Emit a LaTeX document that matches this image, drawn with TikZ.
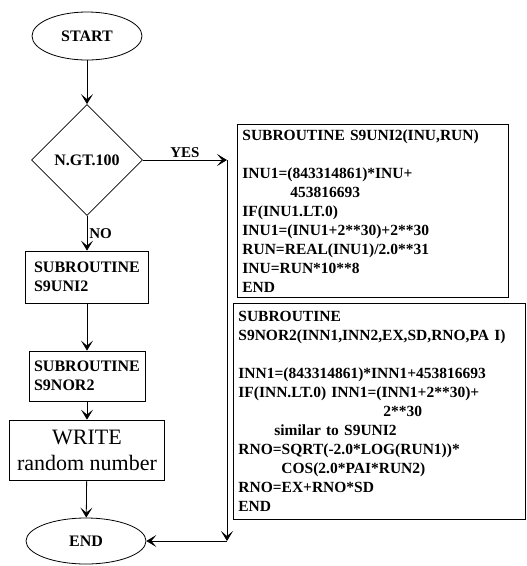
\documentclass[tikz,border=0pt]{standalone}
\usepackage{fontspec}
\setmainfont{Liberation Serif}
\usetikzlibrary{shapes.geometric,arrows.meta}

\newcommand{\codefont}{\fontsize{15.5}{19}\selectfont\bfseries}
\newcommand{\flowfont}{\fontsize{16}{19}\selectfont\bfseries}

\begin{document}
\begin{tikzpicture}[x=1pt,y=-1pt,line width=0.8pt,
	>={Stealth[length=10pt,width=12pt,inset=5pt]},
	term/.style={draw,ellipse,minimum width=110pt,minimum height=48pt,inner sep=0pt,font=\flowfont},
	decide/.style={draw,diamond,aspect=1,minimum width=111pt,minimum height=111pt,inner sep=0pt,font=\flowfont},
	subbox/.style={draw,rectangle,align=left,minimum width=123pt,minimum height=52pt,font=\flowfont},
	codebox/.style={draw,rectangle,anchor=north west,align=left,inner sep=5pt,font=\codefont},
	answer/.style={font=\fontsize{15}{18}\selectfont\bfseries,inner sep=2pt}]
	%\draw[help lines] (0,0) grid[step=50] (527,566);
	\useasboundingbox (0,0) rectangle (527,566);
	\node[term] (start) at (87,36) {START};
	\node[decide] (test) at (87,160) {N.GT.100};
	\node[subbox] (uni) at (87,277) {SUBROUTINE\\S9UNI2};
	\node[subbox,minimum width=116pt,minimum height=50pt] (nor) at (87,376) {SUBROUTINE\\S9NOR2};
	\node[draw,rectangle,align=center,minimum width=155pt,minimum height=60pt,font=\fontsize{22}{26}\selectfont] (write) at (87,450) {WRITE\\random number};
	\node[term,minimum width=120pt,minimum height=46pt] (stop) at (86,541) {END};
	\node[codebox,text width=261pt] (unicode) at (237,124) {SUBROUTINE S9UNI2(INU,RUN)\\[19pt]
		INU1=(843314861)*INU+\\
		\hspace*{48pt}453816693\\
		IF(INU1.LT.0)\\
		INU1=(INU1+2**30)+2**30\\
		RUN=REAL(INU1)/2.0**31\\
		INU=RUN*10**8\\
		END};
	\node[codebox,text width=282pt,inner ysep=8pt] (norcode) at (233,303) {SUBROUTINE\\
		S9NOR2(INN1,INN2,EX,SD,RNO,PA I)\\[19pt]
		INN1=(843314861)*INN1+453816693\\
		IF(INN.LT.0) INN1=(INN1+2**30)+\\
		\hspace*{145pt}2**30\\
		\hspace*{36pt}similar to S9UNI2\\
		RNO=SQRT(-2.0*LOG(RUN1))*\\
		\hspace*{43pt}COS(2.0*PAI*RUN2)\\
		RNO=EX+RNO*SD\\
		END};
	\coordinate (yesjoin) at (227,160);
	\coordinate (endjoin) at (227,541);
	\draw[->] (start) -- (test);
	\draw[->] (test) -- node[answer,right] {NO} (uni);
	\draw[->] (uni) -- (nor);
	\draw[->] (nor) -- (write);
	\draw[->] (write) -- (stop);
	\draw[->] (test.east) -- node[answer,above] {YES} (yesjoin);
	\draw[->] (yesjoin) -- (endjoin);
	\draw[->] (endjoin) -- (stop.east);
\end{tikzpicture}
\end{document}
